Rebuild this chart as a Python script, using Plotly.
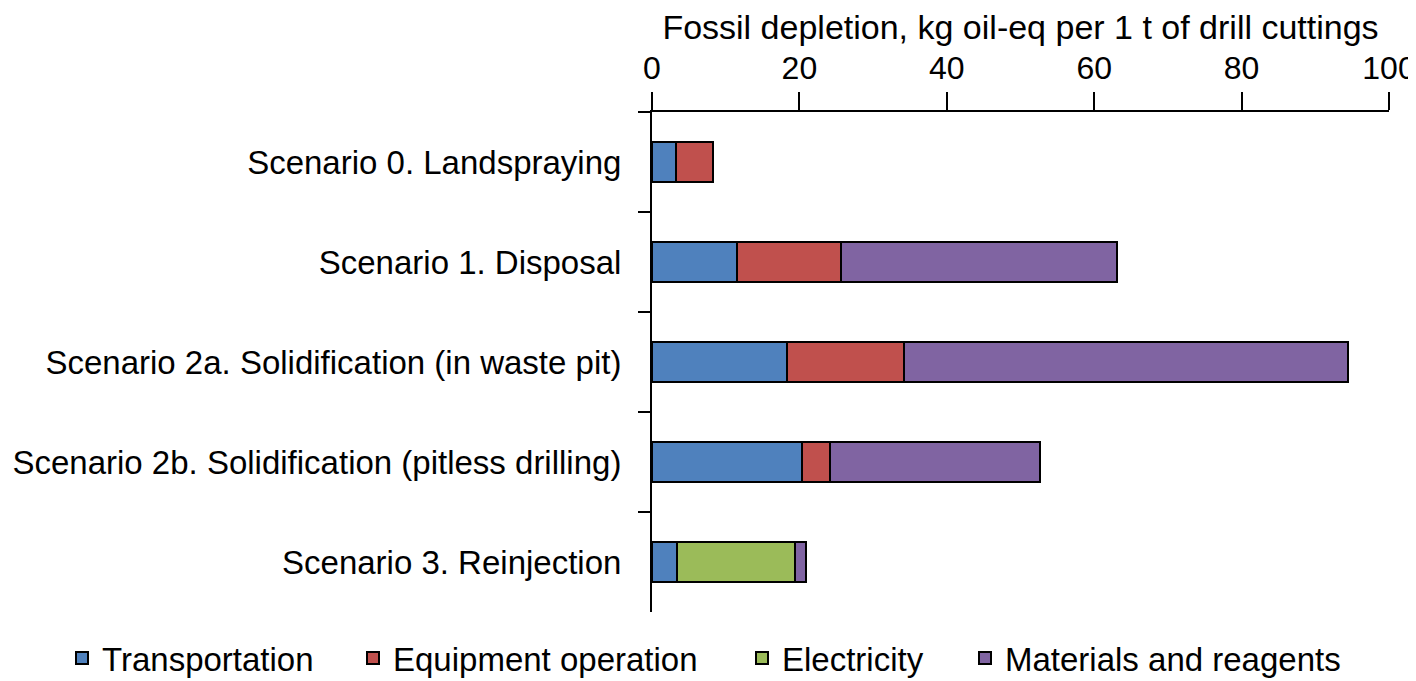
import plotly.graph_objects as go

# Fossil depletion, kg oil-eq per 1 t of drill cuttings
scenarios = [
    "Scenario 0. Landspraying",
    "Scenario 1. Disposal",
    "Scenario 2a. Solidification (in waste pit)",
    "Scenario 2b. Solidification (pitless drilling)",
    "Scenario 3. Reinjection",
]
transportation = [3.2, 11.6, 18.3, 20.4, 3.4]
equipment_operation = [5.1, 14.0, 15.9, 3.8, 0.0]
electricity = [0.0, 0.0, 0.0, 0.0, 16.0]
materials_reagents = [0.0, 37.5, 60.2, 28.4, 1.5]

series = [
    ("Transportation", transportation, "#4F81BD"),
    ("Equipment operation", equipment_operation, "#C0504D"),
    ("Electricity", electricity, "#9BBB59"),
    ("Materials and reagents", materials_reagents, "#8064A2"),
]

font = "Liberation Sans, Arial, sans-serif"

# page has an 8px body margin, so the figure is 8px smaller than the window
W, H = 1408, 673
legend_left = [54, 345, 734, 957]
legend_names = ["legend", "legend2", "legend3", "legend4"]

fig = go.Figure()
for (name, vals, color), lg in zip(series, legend_names):
    fig.add_trace(go.Bar(
        y=scenarios, x=vals, name=name, orientation="h",
        marker=dict(color=color, line=dict(color="black", width=2)),
        width=0.4, legend=lg,
    ))

legends = {}
for lg, left in zip(legend_names, legend_left):
    legends[lg] = dict(
        orientation="h", x=left / W, xref="container", xanchor="left",
        y=23 / H, yref="container", yanchor="middle",
        font=dict(size=33), bgcolor="rgba(0,0,0,0)",
    )

fig.update_layout(
    barmode="stack",
    width=W, height=H,
    margin=dict(l=644, r=27, t=104, b=69),
    plot_bgcolor="white", paper_bgcolor="white",
    font=dict(family=font, size=33, color="black"),
    showlegend=True,
    xaxis=dict(
        side="top", range=[0, 100], dtick=20,
        showline=True, linecolor="black", linewidth=2,
        ticks="outside", ticklen=18, tickcolor="black", tickwidth=2,
        showgrid=False, zeroline=False, automargin=False,
        ticklabeloverflow="allow",
        title=dict(text="Fossil depletion, kg oil-eq per 1 t of drill cuttings",
                   standoff=38, font=dict(size=34)),
        tickfont=dict(size=32),
    ),
    yaxis=dict(
        autorange="reversed", automargin=False,
        showline=True, linecolor="black", linewidth=2,
        ticks="outside", ticklen=12, tickcolor="black", tickwidth=2,
        tickson="boundaries", showgrid=False,
        tickfont=dict(size=33), ticklabelstandoff=22,
    ),
    **legends,
)

fig.write_html("out.html")
